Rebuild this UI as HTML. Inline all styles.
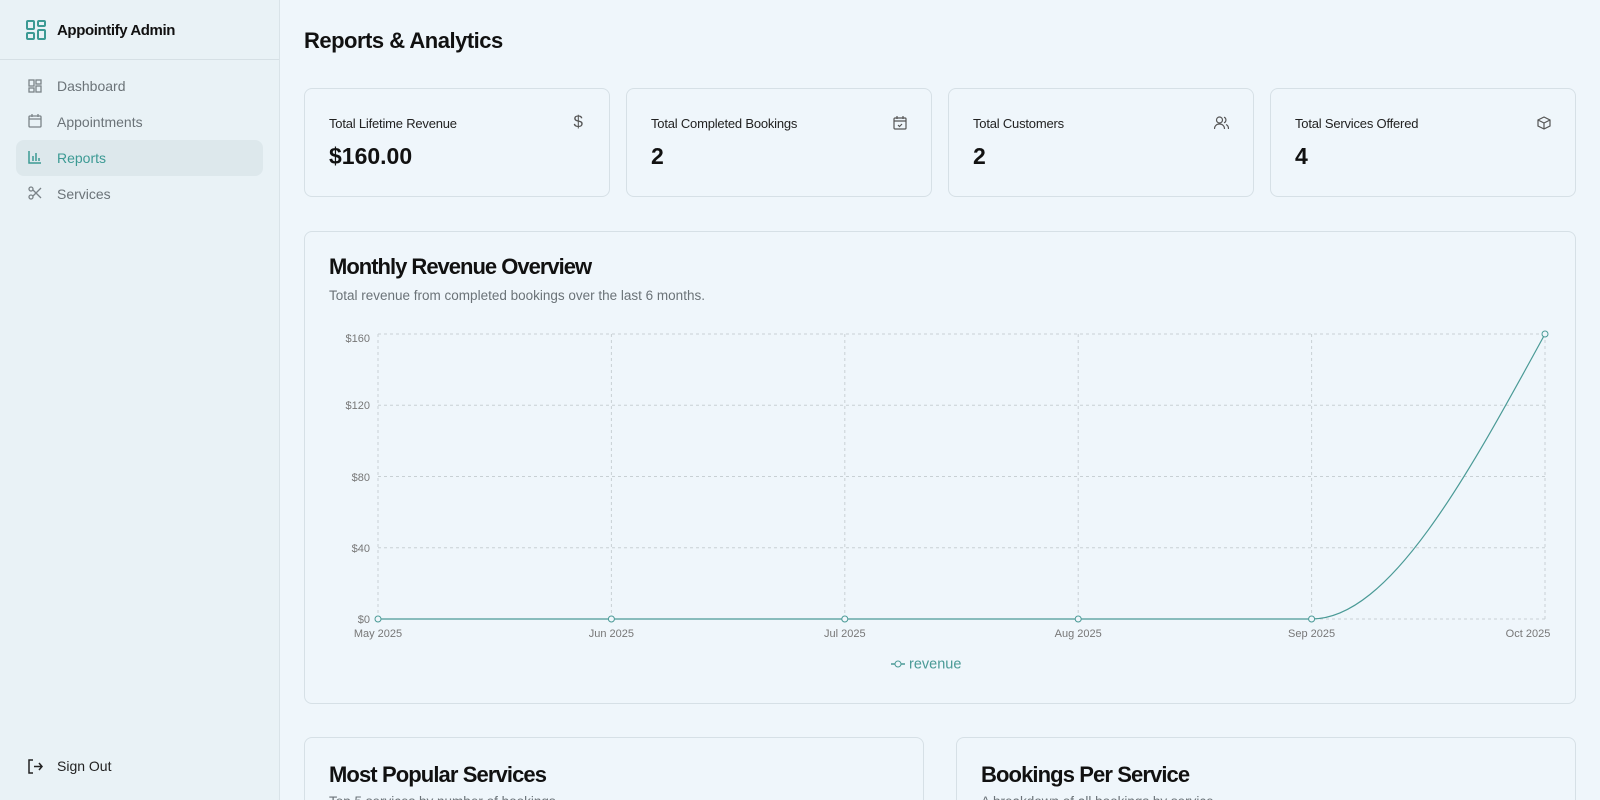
<!DOCTYPE html>
<html style="width:1600px;height:800px;overflow:hidden"><head><meta charset="utf-8"><style>
*{box-sizing:border-box;margin:0;padding:0}
body{width:1600px;height:800px;overflow:hidden;background:#eff6fb;font-family:"Liberation Sans",sans-serif;color:#111;position:relative}
.sb{position:absolute;left:0;top:0;width:280px;height:800px;background:#e9f2f6;border-right:1px solid #d9e3e8}
.sbh{height:60px;border-bottom:1px solid #d6e0e5;position:relative}
.abs{position:absolute}
.nav{position:absolute;left:57px;font-size:14px;color:#6b7378}
.card{position:absolute;background:#eff6fb;border:1px solid #d6e0e6;border-radius:8px;overflow:hidden}
.lbl{position:absolute;left:24px;top:27px;font-size:13px;color:#222;letter-spacing:-0.2px}
.val{position:absolute;left:24px;top:54px;font-size:23px;font-weight:bold}
</style></head><body>
<div class="sb">
 <div class="sbh">
  <svg class="abs" style="left:26px;top:20px" width="20" height="20" viewBox="0 0 20 20" fill="none" stroke="#3c9a94" stroke-width="2"><rect x="1" y="1" width="7" height="8" rx="1"/><rect x="12" y="1" width="7" height="5" rx="1"/><rect x="12" y="10" width="7" height="9" rx="1"/><rect x="1" y="13" width="7" height="6" rx="1"/></svg>
  <div class="abs" style="left:57px;top:22px;font-size:15px;font-weight:bold;letter-spacing:-0.4px">Appointify Admin</div>
 </div>
 <div class="abs" style="left:16px;top:140px;width:247px;height:36px;background:#dde8ec;border-radius:8px"></div>
 <svg class="abs" style="left:28px;top:79px" width="14" height="14" viewBox="0 0 14 14" fill="none" stroke="#7b8388" stroke-width="1.3"><rect x="1" y="1" width="5" height="6"/><rect x="8" y="1" width="5" height="4"/><rect x="8" y="7" width="5" height="6"/><rect x="1" y="9" width="5" height="4"/></svg>
 <div class="nav" style="top:78px">Dashboard</div>
 <svg class="abs" style="left:28px;top:114px" width="14" height="14" viewBox="0 0 14 14" fill="none" stroke="#7b8388" stroke-width="1.3"><rect x="1" y="2" width="12" height="11" rx="1"/><path d="M1 5h12M4 0v3M10 0v3"/></svg>
 <div class="nav" style="top:114px">Appointments</div>
 <svg class="abs" style="left:28px;top:150px" width="14" height="14" viewBox="0 0 14 14" fill="none" stroke="#3c9a94" stroke-width="1.5"><path d="M1 1v12h12M5 11V6M8 11V3M11 11V8"/></svg>
 <div class="nav" style="top:150px;color:#3c9a94">Reports</div>
 <svg class="abs" style="left:28px;top:186px" width="14" height="14" viewBox="0 0 14 14" fill="none" stroke="#7b8388" stroke-width="1.3"><circle cx="3" cy="3" r="2"/><circle cx="3" cy="11" r="2"/><path d="M5 4l8 8M5 10l8-8"/></svg>
 <div class="nav" style="top:186px">Services</div>
 <svg class="abs" style="left:28px;top:759px" width="15" height="15" viewBox="0 0 15 15" fill="none" stroke="#222" stroke-width="1.5"><path d="M5 1H1v13h4M6 7.5h8M11 4l3 3.5-3 3.5"/></svg>
 <div class="nav" style="top:758px;color:#222">Sign Out</div>
</div>

<div class="abs" style="left:304px;top:28px;font-size:22px;font-weight:bold;letter-spacing:-0.5px">Reports &amp; Analytics</div>

<div class="card" style="left:304px;top:88px;width:306px;height:109px"><div class="lbl">Total Lifetime Revenue</div><div class="abs" style="right:26px;top:23px;font-size:17px;color:#555">$</div><div class="val">$160.00</div></div>
<div class="card" style="left:626px;top:88px;width:306px;height:109px"><div class="lbl">Total Completed Bookings</div><svg class="abs" style="right:24px;top:27px" width="14" height="14" viewBox="0 0 14 14" fill="none" stroke="#555" stroke-width="1.2"><rect x="1" y="2" width="12" height="11" rx="1"/><path d="M1 5h12M4 0v3M10 0v3M5 9l1.5 1.5L9 8"/></svg><div class="val">2</div></div>
<div class="card" style="left:948px;top:88px;width:306px;height:109px"><div class="lbl">Total Customers</div><svg class="abs" style="right:24px;top:27px" width="15" height="14" viewBox="0 0 15 14" fill="none" stroke="#555" stroke-width="1.2"><circle cx="5.5" cy="4" r="3"/><path d="M0.5 13c0-3 2-5 5-5s5 2 5 5M10 1.2a3 3 0 010 5.6M12 8.5c1.5.6 2.5 2.3 2.5 4.5"/></svg><div class="val">2</div></div>
<div class="card" style="left:1270px;top:88px;width:306px;height:109px"><div class="lbl">Total Services Offered</div><svg class="abs" style="right:24px;top:27px" width="14" height="14" viewBox="0 0 14 14" fill="none" stroke="#555" stroke-width="1.2"><path d="M7 1l6 3v6l-6 3-6-3V4zM1 4l6 3 6-3M7 7v6"/></svg><div class="val">4</div></div>

<div class="card" style="left:304px;top:231px;width:1272px;height:473px">
 <div class="abs" style="left:24px;top:22px;font-size:22px;font-weight:bold;letter-spacing:-1px">Monthly Revenue Overview</div>
 <div class="abs" style="left:24px;top:56px;font-size:13.5px;color:#6b7378">Total revenue from completed bookings over the last 6 months.</div>
</div>

<svg class="abs" style="left:0;top:0" width="1600" height="800">
 <g stroke="#c8d0d4" stroke-dasharray="3 3" fill="none">
  <path d="M378 334H1545M378 405.25H1545M378 476.5H1545M378 547.75H1545M378 619H1545"/>
  <path d="M378 334V619M611.4 334V619M844.8 334V619M1078.2 334V619M1311.6 334V619M1545 334V619"/>
 </g>
 <g font-family="Liberation Sans" font-size="11" fill="#777" text-anchor="end">
  <text x="370" y="342">$160</text><text x="370" y="409">$120</text><text x="370" y="481">$80</text><text x="370" y="552">$40</text><text x="370" y="623">$0</text>
 </g>
 <g font-family="Liberation Sans" font-size="11" fill="#777" text-anchor="middle">
  <text x="378" y="637">May 2025</text><text x="611.4" y="637">Jun 2025</text><text x="844.8" y="637">Jul 2025</text><text x="1078.2" y="637">Aug 2025</text><text x="1311.6" y="637">Sep 2025</text><text x="1528" y="637">Oct 2025</text>
 </g>
 <path d="M378 619H1311.6C1389.4 619 1467.2 476.5 1545 334" stroke="#4a9a96" stroke-width="1.2" fill="none"/>
 <g fill="#eff6fb" stroke="#4a9a96" stroke-width="1">
  <circle cx="378" cy="619" r="3"/><circle cx="611.4" cy="619" r="3"/><circle cx="844.8" cy="619" r="3"/><circle cx="1078.2" cy="619" r="3"/><circle cx="1311.6" cy="619" r="3"/><circle cx="1545" cy="334" r="3"/>
 </g>
 <path d="M891 664h14" stroke="#4a9a96" stroke-width="1.5"/><circle cx="898" cy="664" r="3" fill="#eff6fb" stroke="#4a9a96"/>
 <text x="909" y="668.5" font-family="Liberation Sans" font-size="14.5" fill="#4a9a96">revenue</text>
</svg>

<div class="card" style="left:304px;top:737px;width:620px;height:63px;border-bottom:none;border-radius:8px 8px 0 0"><div class="abs" style="left:24px;top:24px;font-size:22px;font-weight:bold;letter-spacing:-0.9px">Most Popular Services</div><div class="abs" style="left:24px;top:56px;font-size:13.5px;color:#6b7378">Top 5 services by number of bookings.</div></div>
<div class="card" style="left:956px;top:737px;width:620px;height:63px;border-bottom:none;border-radius:8px 8px 0 0"><div class="abs" style="left:24px;top:24px;font-size:22px;font-weight:bold;letter-spacing:-0.9px">Bookings Per Service</div><div class="abs" style="left:24px;top:56px;font-size:13.5px;color:#6b7378">A breakdown of all bookings by service.</div></div>
</body></html>
